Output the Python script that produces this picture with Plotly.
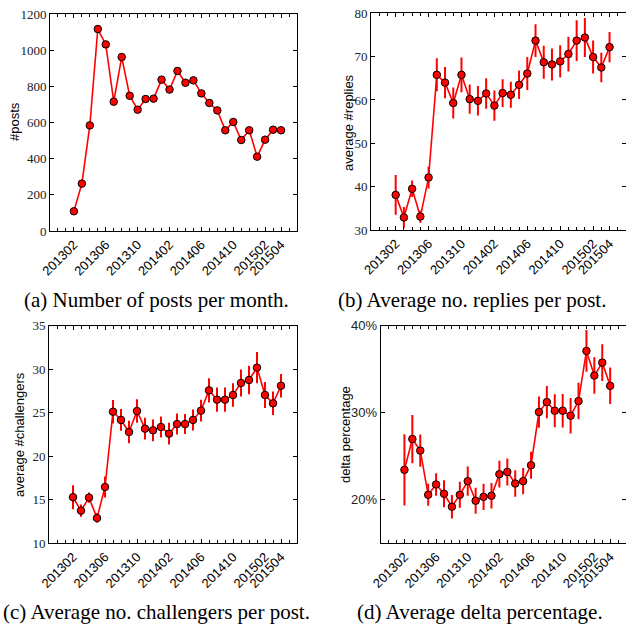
import plotly.graph_objects as go

months = ["201302","201303","201304","201305","201306","201307","201308","201309","201310","201311","201312",
          "201401","201402","201403","201404","201405","201406","201407","201408","201409","201410","201411","201412",
          "201501","201502","201503","201504"]
tick_labels = ["201302","201306","201310","201402","201406","201410","201502","201504"]

posts = [109, 262, 584, 1117, 1032, 715, 962, 748, 671, 730, 732, 837, 782, 885, 820, 833, 761, 708, 667,
         557, 603, 503, 557, 411, 505, 560, 557]

replies = [38.1, 32.9, 39.5, 33.1, 42.1, 65.8, 64.0, 59.3, 65.8, 60.2, 59.8, 61.5, 58.7, 61.6, 61.2, 63.5,
           66.1, 73.7, 68.7, 68.2, 68.9, 70.6, 73.7, 74.4, 69.9, 67.5, 72.2]
replies_err = [4.6, 2.4, 1.9, 1.4, 2.5, 3.8, 3.6, 3.6, 4.0, 3.4, 3.4, 3.5, 3.5, 3.2, 3.0, 3.3, 3.8, 3.8,
               3.8, 3.7, 3.7, 4.0, 4.7, 4.5, 3.8, 3.4, 3.5]

challengers = [15.3, 13.75, 15.25, 12.9, 16.47, 25.12, 24.17, 22.79, 25.2, 23.17, 22.98, 23.36, 22.6, 23.7,
               23.7, 24.17, 25.24, 27.57, 26.5, 26.5, 27.04, 28.42, 28.76, 30.18, 27.04, 26.08, 28.1]
challengers_err = [1.38, 0.7, 0.6, 0.55, 1.2, 1.35, 1.25, 1.3, 1.35, 1.25, 1.25, 1.2, 1.25, 1.2, 1.15, 1.2,
                   1.25, 1.4, 1.4, 1.4, 1.35, 1.55, 1.65, 1.8, 1.5, 1.35, 1.35]

delta = [23.44, 26.98, 25.65, 20.57, 21.76, 20.69, 19.2, 20.57, 22.14, 19.89, 20.34, 20.46, 22.94, 23.2,
         21.87, 22.14, 23.97, 30.08, 31.22, 30.23, 30.23, 29.66, 31.34, 37.1, 34.27, 35.76, 33.09]
delta_err = [4.1, 2.77, 1.85, 1.26, 1.3, 1.55, 1.34, 1.5, 1.68, 1.5, 1.5, 1.47, 1.53, 1.55, 1.53, 1.5,
             1.55, 1.8, 1.85, 1.9, 1.93, 2.04, 2.1, 2.4, 2.1, 2.1, 2.1]

captions = ["(a) Number of posts per month.", "(b) Average no. replies per post.",
            "(c) Average no. challengers per post.", "(d) Average delta percentage."]
y_titles = ["#posts", "average #replies", "average #challengers", "delta percentage"]

idx = list(range(len(months)))
tick_pos = [months.index(t) for t in tick_labels]

RED = "#ff0000"
fig = go.Figure()

def add(series, err, n):
    kw = {}
    if err is not None:
        kw["error_y"] = dict(type="data", array=err, visible=True, color=RED, thickness=2, width=0)
    fig.add_trace(go.Scatter(
        x=idx, y=series, mode="lines+markers",
        line=dict(color=RED, width=1.6),
        marker=dict(size=7.5, color=RED, line=dict(color="black", width=1)),
        xaxis="x" + ("" if n == 1 else str(n)), yaxis="y" + ("" if n == 1 else str(n)),
        showlegend=False, **kw))

add(posts, None, 1)
add(replies, replies_err, 2)
add(challengers, challengers_err, 3)
add(delta, delta_err, 4)

W, H = 626, 627
def px_x(a, b):
    return [a / W, b / W]
def px_y(top, bottom):
    return [1 - bottom / H, 1 - top / H]

doms = {
    1: (px_x(50, 297), px_y(14, 231)),
    2: (px_x(371, 626), px_y(13.3, 230)),
    3: (px_x(49, 297), px_y(325.7, 543.3)),
    4: (px_x(380.7, 626), px_y(325.7, 543.3)),
}

serif = "Liberation Serif"
sans = "Liberation Sans"

yconf = {
    1: dict(range=[0, 1200], tickvals=[0, 200, 400, 600, 800, 1000, 1200], font=serif, suffix=""),
    2: dict(range=[30, 80], tickvals=[30, 40, 50, 60, 70, 80], font=serif, suffix=""),
    3: dict(range=[10, 35], tickvals=[10, 15, 20, 25, 30, 35], font=serif, suffix=""),
    4: dict(range=[15, 40], tickvals=[20, 30, 40], font=sans, suffix="%"),
}

layout = dict(width=W, height=H, margin=dict(l=0, r=0, t=0, b=0),
              plot_bgcolor="white", paper_bgcolor="white", annotations=[])

for n in range(1, 5):
    xs = "xaxis" + ("" if n == 1 else str(n))
    ys = "yaxis" + ("" if n == 1 else str(n))
    yc = yconf[n]
    layout[xs] = dict(
        domain=doms[n][0], range=[-3, 28], anchor="y" + ("" if n == 1 else str(n)),
        tickmode="array", tickvals=tick_pos, ticktext=tick_labels, tickangle=-45,
        tickfont=dict(family=sans, size=13, color="black"), automargin=False,
        showline=True, mirror="ticks", linecolor="black", linewidth=1,
        ticks="inside", ticklen=4, tickcolor="black", showgrid=False, zeroline=False,
        minor=dict(dtick=1, tick0=0, ticks="inside", ticklen=3, tickcolor="black", showgrid=False),
    )
    layout[ys] = dict(
        domain=doms[n][1], range=yc["range"], anchor="x" + ("" if n == 1 else str(n)),
        tickmode="array", tickvals=yc["tickvals"],
        ticktext=[f"{v}{yc['suffix']}" for v in yc["tickvals"]],
        tickfont=dict(family=yc["font"], size=13, color="#222"), automargin=False,
        showline=True, mirror="ticks", linecolor="black", linewidth=1,
        ticks="inside", ticklen=4, tickcolor="black", showgrid=False, zeroline=False,
    )

title_pos = [(15, 122), (348, 123), (19, 435), (345, 435)]
for t, (cx, cy) in zip(y_titles, title_pos):
    layout["annotations"].append(dict(
        text=t, x=cx / W, y=1 - cy / H, xref="paper", yref="paper", textangle=-90,
        showarrow=False, xanchor="center", yanchor="middle",
        font=dict(family=sans, size=13, color="black")))

cap_pos = [(156, 300), (472, 300), (156, 612), (480, 612)]
for c, (cx, cy) in zip(captions, cap_pos):
    layout["annotations"].append(dict(
        text=c, x=cx / W, y=1 - cy / H, xref="paper", yref="paper",
        showarrow=False, xanchor="center", yanchor="middle",
        font=dict(family=serif, size=21, color="black")))

fig.update_layout(**layout)
fig.write_html("out.html", config={"displayModeBar": False},
               post_script="document.body.style.margin='0px';")
